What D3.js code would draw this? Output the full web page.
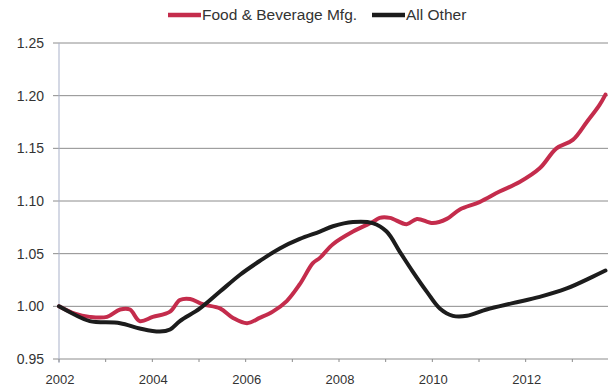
<!DOCTYPE html>
<html>
<head>
<meta charset="utf-8">
<script src="https://cdn.jsdelivr.net/npm/d3@7"></script>
<style>
  body { margin: 0; background: #fff; }
  svg { display: block; font-family: "Liberation Sans", Arial, sans-serif; }
</style>
</head>
<body>
<div id="chart"></div>
<script>
// series data (decimal year, index value)
const foodYears = [2002.0, 2002.34, 2002.66, 2003.03, 2003.31, 2003.52, 2003.73, 2004.01, 2004.38, 2004.59,
  2004.81, 2005.08, 2005.45, 2005.73, 2006.03, 2006.30, 2006.58, 2006.88, 2007.16, 2007.44, 2007.59,
  2007.87, 2008.30, 2008.72, 2008.87, 2009.09, 2009.45, 2009.67, 2010.01, 2010.31, 2010.59, 2011.01,
  2011.44, 2011.87, 2012.30, 2012.66, 2013.01, 2013.31, 2013.58, 2013.71];
const foodValues = [1.000, 0.993, 0.990, 0.990, 0.997, 0.997, 0.986, 0.990, 0.995, 1.006,
  1.007, 1.002, 0.998, 0.989, 0.984, 0.989, 0.995, 1.005, 1.021, 1.041, 1.046,
  1.059, 1.071, 1.080, 1.084, 1.084, 1.078, 1.083, 1.079, 1.083, 1.092, 1.099,
  1.109, 1.118, 1.131, 1.150, 1.158, 1.175, 1.191, 1.201];

const otherYears = [2002.0, 2002.34, 2002.66, 2003.31, 2003.73, 2004.16, 2004.38, 2004.59, 2005.02, 2005.45,
  2005.88, 2006.30, 2006.73, 2007.16, 2007.59, 2007.87, 2008.30, 2008.72, 2009.02, 2009.30, 2009.58,
  2009.88, 2010.16, 2010.44, 2010.74, 2011.16, 2011.72, 2012.30, 2012.88, 2013.43, 2013.71];
const otherValues = [1.000, 0.992, 0.986, 0.984, 0.979, 0.976, 0.978, 0.986, 0.998, 1.014,
  1.030, 1.043, 1.055, 1.064, 1.071, 1.076, 1.080, 1.079, 1.071, 1.052, 1.033,
  1.014, 0.998, 0.991, 0.991, 0.997, 1.003, 1.009, 1.017, 1.028, 1.034];

const seriesNames = ['Food & Beverage Mfg.', 'All Other'];
const seriesColors = ['#c42c4c', '#1c1c1c'];
const yTicks = [0.95, 1.00, 1.05, 1.10, 1.15, 1.20, 1.25];
const xLabelYears = [2002, 2004, 2006, 2008, 2010, 2012];
const xTickYears = d3.range(2002, 2014);

const width = 608, height = 389;
const svg = d3.select('#chart').append('svg')
  .attr('width', width).attr('height', height);

const x = d3.scaleLinear().domain([2002, 2014]).range([59, 619]);
const y = d3.scaleLinear().domain([0.95, 1.25]).range([359, 43]);

// horizontal gridlines (with a short stub left of the axis)
svg.append('g')
  .selectAll('line')
  .data(yTicks)
  .join('line')
  .attr('x1', 53).attr('x2', width)
  .attr('y1', d => y(d)).attr('y2', d => y(d))
  .attr('stroke', '#8c8c8c').attr('stroke-width', 1);

// y labels
svg.append('g')
  .selectAll('text')
  .data(yTicks)
  .join('text')
  .attr('x', 44).attr('y', d => y(d))
  .attr('dy', '0.35em')
  .attr('text-anchor', 'end')
  .attr('font-size', 14)
  .attr('fill', '#333')
  .text(d => d.toFixed(2));

// vertical axis line
svg.append('line')
  .attr('x1', x(2002)).attr('x2', x(2002))
  .attr('y1', y(1.25)).attr('y2', y(0.95) + 4)
  .attr('stroke', '#a9b1c9').attr('stroke-width', 1);

// x axis ticks and labels
const xAxis = svg.append('g');
xAxis.selectAll('line')
  .data(xTickYears)
  .join('line')
  .attr('x1', d => x(d)).attr('x2', d => x(d))
  .attr('y1', y(0.95)).attr('y2', y(0.95) + 3)
  .attr('stroke', '#8c8c8c');
xAxis.selectAll('text')
  .data(xLabelYears)
  .join('text')
  .attr('x', d => x(d) + 1).attr('y', 384)
  .attr('text-anchor', 'middle')
  .attr('font-size', 13)
  .attr('fill', '#333')
  .text(d => d);

// lines
const line = d3.line()
  .x(d => x(d[0])).y(d => y(d[1]))
  .curve(d3.curveCatmullRom.alpha(0.5));

const series = [
  d3.zip(foodYears, foodValues),
  d3.zip(otherYears, otherValues)
];

svg.append('g')
  .selectAll('path')
  .data(series)
  .join('path')
  .attr('d', line)
  .attr('fill', 'none')
  .attr('stroke', (d, i) => seriesColors[i])
  .attr('stroke-width', 4)
  .attr('stroke-linejoin', 'round')
  .attr('stroke-linecap', 'round');

// legend
const legendX = [168, 372];
const legend = svg.append('g')
  .selectAll('g')
  .data(seriesNames)
  .join('g')
  .attr('transform', (d, i) => `translate(${legendX[i]},15)`);
legend.append('line')
  .attr('x1', 0).attr('x2', 33).attr('y1', 0).attr('y2', 0)
  .attr('stroke', (d, i) => seriesColors[i])
  .attr('stroke-width', 4.5);
legend.append('text')
  .attr('x', 34).attr('dy', '0.35em')
  .attr('font-size', 15.5)
  .attr('fill', '#333')
  .text(d => d);
</script>
</body>
</html>
